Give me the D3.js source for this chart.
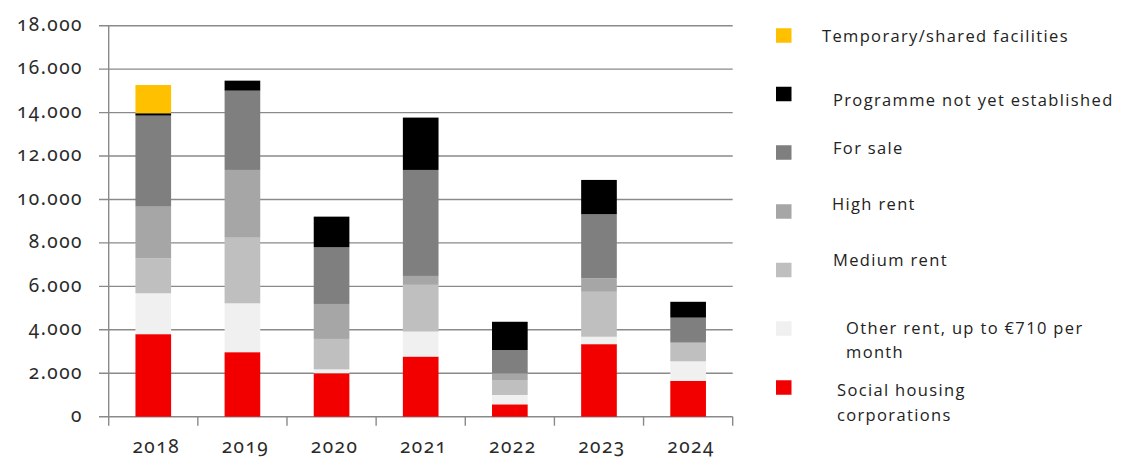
<!DOCTYPE html>
<html>
<head>
<meta charset="utf-8">
<script src="https://cdn.jsdelivr.net/npm/d3@7"></script>
<style>
  html, body { margin: 0; padding: 0; background: #fff; }
  svg { display: block; }
  .tick-label {
    font-family: "Noto Sans", "DejaVu Sans", sans-serif;
    font-variant-numeric: oldstyle-nums;
    font-feature-settings: "onum" 1;
    fill: #2a2a2a;
  }
  .legend-label { font-family: "Open Sans", "Noto Sans", sans-serif; fill: #222; letter-spacing: 1.35px; }
</style>
</head>
<body>
<svg id="chart" width="1125" height="461"></svg>
<script>
// Housing completions per year, split by segment (stacked from bottom to top)
const years = ["2018", "2019", "2020", "2021", "2022", "2023", "2024"];

const socialHousing   = [3800, 2970, 2000, 2770, 570, 3340, 1650];
const otherRent       = [1880, 2250, 180, 1150, 430, 340, 900];
const mediumRent      = [1610, 3020, 1400, 2150, 690, 2070, 840];
const highRent        = [2380, 3120, 1610, 410, 310, 620, 50];
const forSale         = [4190, 3650, 2610, 4880, 1070, 2950, 1120];
const notEstablished  = [110, 460, 1410, 2410, 1300, 1580, 730];
const temporary       = [1300, 0, 0, 0, 0, 0, 0];

const yTicks = [0, 2000, 4000, 6000, 8000, 10000, 12000, 14000, 16000, 18000];

const seriesNames = [
  "Social housing corporations",
  "Other rent, up to €710 per month",
  "Medium rent",
  "High rent",
  "For sale",
  "Programme not yet established",
  "Temporary/shared facilities"
];
const seriesValues = [socialHousing, otherRent, mediumRent, highRent, forSale, notEstablished, temporary];
const seriesColors = ["#f20000", "#f0f0f0", "#bfbfbf", "#a6a6a6", "#7f7f7f", "#000000", "#ffc000"];

// Rows for d3.stack
const rows = years.map((y, i) => {
  const r = { year: y };
  seriesNames.forEach((n, k) => { r[n] = seriesValues[k][i]; });
  return r;
});

const svg = d3.select("#chart");

const x = d3.scaleBand().domain(years).range([108.7, 732.7]).paddingInner(0.6).paddingOuter(0.3);
const y = d3.scaleLinear().domain([0, 18000]).range([416.7, 25.7]);

const gridColor = "#8a8a8a";

// Horizontal gridlines with short ticks to the left of the value axis
svg.append("g").selectAll("line").data(yTicks).join("line")
  .attr("x1", 99).attr("x2", 732.7)
  .attr("y1", d => y(d)).attr("y2", d => y(d))
  .attr("stroke", gridColor).attr("stroke-width", 1.4);

// Value axis line
svg.append("line")
  .attr("x1", 108.7).attr("x2", 108.7)
  .attr("y1", y(18000)).attr("y2", y(0) + 9)
  .attr("stroke", gridColor).attr("stroke-width", 1.4);

// Category boundary ticks below the baseline
const bounds = years.map(d => x(d) - x.step() * x.paddingInner() / 2).concat([732.7]);
svg.append("g").selectAll("line").data(bounds.slice(1)).join("line")
  .attr("x1", d => d).attr("x2", d => d)
  .attr("y1", y(0)).attr("y2", y(0) + 9)
  .attr("stroke", gridColor).attr("stroke-width", 1.4);

// Y tick labels (thousands separated with a dot)
const fmt = v => v === 0 ? "0" : d3.format(",")(v).replace(/,/g, ".");
svg.append("g").selectAll("text").data(yTicks).join("text")
  .attr("class", "tick-label")
  .attr("x", 83).attr("y", d => y(d))
  .attr("dy", "0.28em")
  .attr("text-anchor", "end")
  .attr("font-size", 19)
  .attr("letter-spacing", 1.5)
  .text(fmt);

// X labels
svg.append("g").selectAll("text").data(years).join("text")
  .attr("class", "tick-label")
  .attr("x", d => x(d) + x.bandwidth() / 2 + 3)
  .attr("y", 453)
  .attr("text-anchor", "middle")
  .attr("font-size", 19)
  .attr("letter-spacing", 1.5)
  .text(d => d);

// Stacked bars
const stacked = d3.stack().keys(seriesNames)(rows);
svg.append("g").selectAll("g").data(stacked).join("g")
  .attr("fill", (d, i) => seriesColors[i])
  .selectAll("rect").data(d => d).join("rect")
  .attr("x", d => x(d.data.year))
  .attr("width", x.bandwidth())
  .attr("y", d => y(d[1]))
  .attr("height", d => Math.max(0, y(d[0]) - y(d[1])));

// Legend (top-down: reverse of stacking order)
const legendItems = [
  { k: 6, sy: 35.5, tx: 822, lines: ["Temporary/shared facilities"], ty: [36] },
  { k: 5, sy: 94,   tx: 833, lines: ["Programme not yet established"], ty: [100] },
  { k: 4, sy: 152.5, tx: 833, lines: ["For sale"], ty: [148] },
  { k: 3, sy: 211.5, tx: 832, lines: ["High rent"], ty: [204] },
  { k: 2, sy: 270,  tx: 833, lines: ["Medium rent"], ty: [260] },
  { k: 1, sy: 328.5, tx: 846, lines: ["Other rent, up to €710 per", "month"], ty: [328.5, 352.5] },
  { k: 0, sy: 387.5, tx: 837, lines: ["Social housing", "corporations"], ty: [390, 415] }
];

const lg = svg.append("g");
legendItems.forEach(it => {
  lg.append("rect")
    .attr("x", 776).attr("y", it.sy - 7.25)
    .attr("width", 15.5).attr("height", 14.5)
    .attr("fill", seriesColors[it.k]);
  it.lines.forEach((t, j) => {
    lg.append("text")
      .attr("class", "legend-label")
      .attr("x", it.tx).attr("y", it.ty[j])
      .attr("dy", "0.35em")
      .attr("font-size", 16.5)
      .text(t);
  });
});
</script>
</body>
</html>
